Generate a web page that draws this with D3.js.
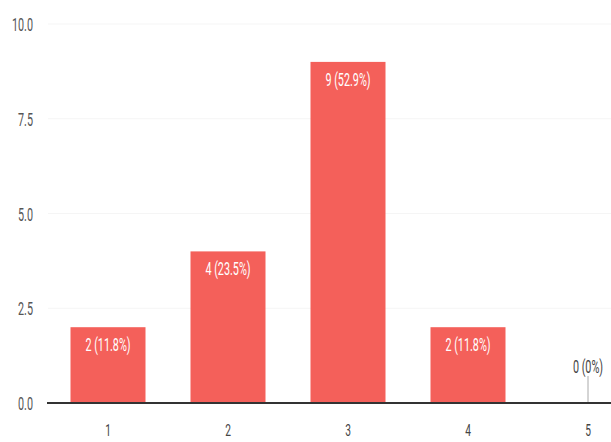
<!DOCTYPE html>
<html>
<head>
<meta charset="utf-8">
<script src="https://cdn.jsdelivr.net/npm/d3@7"></script>
<style>
  body { margin: 0; background: #fff; }
  text { font-family: Roboto, "Liberation Sans", sans-serif; }
</style>
</head>
<body>
<div id="vis"></div>
<script>
// answer options and how many people picked each
var categories = ["1", "2", "3", "4", "5"];
var counts = [2, 4, 9, 2, 0];
var percents = ["11.8%", "23.5%", "52.9%", "11.8%", "0%"];
var yTicks = [0, 2.5, 5, 7.5, 10];

var width = 611, height = 442;
var margin = {top: 24, right: -37, bottom: 39, left: 48};
var squeeze = 0.6; // the original uses a condensed face

var svg = d3.select("#vis").append("svg")
    .attr("width", width)
    .attr("height", height);

var x = d3.scaleBand()
    .domain(categories)
    .range([margin.left, width - margin.right])
    .paddingInner(0.375)
    .paddingOuter(0.1875);

var y = d3.scaleLinear()
    .domain([0, 10])
    .range([height - margin.bottom, margin.top]);

// narrow text helper
function narrowText(px, py, str, size, color, anchor) {
  return svg.append("text")
    .attr("transform", "translate(" + px + "," + py + ") scale(" + squeeze + ",1)")
    .attr("text-anchor", anchor || "middle")
    .style("font-size", size + "px")
    .style("fill", color)
    .text(str);
}

// faint gridlines
svg.append("g")
  .selectAll("line")
  .data(yTicks.slice(1))
  .enter().append("line")
    .attr("x1", margin.left)
    .attr("x2", width)
    .attr("y1", function(d) { return y(d); })
    .attr("y2", function(d) { return y(d); })
    .style("stroke", "#f5f5f5")
    .style("stroke-width", 1);

// y labels
var fmt = d3.format(".1f");
yTicks.forEach(function(t) {
  narrowText(33, y(t) + 7, fmt(t), 18, "#555", "end");
});

// bars
svg.selectAll(".bar")
    .data(counts)
    .enter().append("rect")
    .attr("class", "bar")
    .attr("x", function(d, i) { return x(categories[i]); })
    .attr("y", function(d) { return y(d); })
    .attr("width", x.bandwidth())
    .attr("height", function(d) { return y(0) - y(d); })
    .style("fill", "#f4605a");

// value labels
counts.forEach(function(d, i) {
  var cx = x(categories[i]) + x.bandwidth() / 2;
  var label = d + " (" + percents[i] + ")";
  if (d > 0) {
    narrowText(cx, y(d) + 24, label, 18, "#fff");
  } else {
    svg.append("line")
      .attr("x1", cx).attr("x2", cx)
      .attr("y1", y(0) - 27).attr("y2", y(0))
      .style("stroke", "#aaa")
      .style("stroke-width", 1);
    narrowText(cx, y(0) - 30, label, 18, "#444");
  }
});

// x labels
categories.forEach(function(c) {
  narrowText(x(c) + x.bandwidth() / 2, y(0) + 33, c, 17, "#444");
});

// baseline
svg.append("line")
    .attr("x1", margin.left - 1)
    .attr("x2", width)
    .attr("y1", y(0))
    .attr("y2", y(0))
    .style("stroke", "#333")
    .style("stroke-width", 2);
</script>
</body>
</html>
